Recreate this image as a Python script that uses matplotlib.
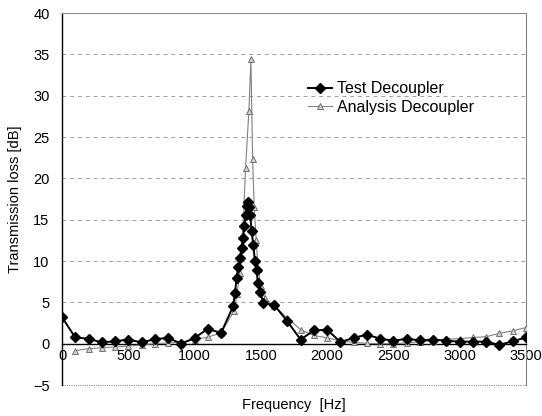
import matplotlib
matplotlib.use('Agg')
import matplotlib.pyplot as plt

# Test decoupler (measured)
test_freq = [0, 100, 200, 300, 400, 500, 600, 700, 800, 900, 1000, 1100, 1200,
             1290, 1305, 1317, 1330, 1342, 1355, 1365, 1375, 1385, 1395, 1405, 1412,
             1420, 1430, 1443, 1455, 1468, 1478, 1493, 1520, 1600, 1700, 1800,
             1900, 2000, 2100, 2200, 2300, 2400, 2500, 2600, 2700, 2800, 2900,
             3000, 3100, 3200, 3300, 3400, 3500]
test_tl = [3.2, 0.75, 0.6, 0.15, 0.3, 0.5, 0.15, 0.55, 0.7, 0.0, 0.7, 1.8, 1.3,
           4.5, 6.1, 8.0, 9.3, 10.4, 11.6, 12.8, 14.2, 15.6, 16.7, 17.2, 16.5,
           15.6, 13.6, 12.0, 10.0, 8.9, 7.3, 6.3, 4.9, 4.7, 2.7, 0.5,
           1.6, 1.7, 0.2, 0.7, 1.1, 0.6, 0.35, 0.6, 0.4, 0.5, 0.35,
           0.25, 0.25, 0.25, -0.15, 0.3, 0.75]

# Analysis decoupler (simulation)
ana_freq = [100, 200, 300, 400, 500, 600, 700, 800, 900, 1000, 1100, 1200,
            1300, 1320, 1340, 1360, 1385, 1410, 1425, 1438, 1450, 1465, 1480,
            1500, 1530, 1600, 1700, 1800, 1900, 2000, 2100, 2200, 2300, 2400,
            2500, 2600, 2700, 2800, 2900, 3000, 3100, 3200, 3300, 3400, 3500]
ana_tl = [-0.85, -0.6, -0.5, -0.4, -0.3, -0.15, 0.0, 0.1, 0.15, 0.5, 0.8, 1.3,
          4.0, 6.0, 8.5, 12.0, 21.3, 28.2, 34.4, 22.3, 16.5, 12.5, 9.0,
          7.0, 5.5, 4.6, 3.1, 1.7, 1.0, 0.7, 0.35, 0.15, 0.05, 0.0,
          0.0, 0.1, 0.25, 0.35, 0.55, 0.6, 0.75, 0.85, 1.25, 1.55, 1.95]

x_ticks = [0, 500, 1000, 1500, 2000, 2500, 3000, 3500]
y_ticks = [-5, 0, 5, 10, 15, 20, 25, 30, 35, 40]

plt.rcParams['font.family'] = ['Liberation Sans', 'DejaVu Sans']

fig = plt.figure(figsize=(5.42, 4.16), dpi=100)
ax = fig.add_axes([0.1144, 0.0745, 0.856, 0.894])

ax.plot(ana_freq, ana_tl, color='#808080', lw=0.8, marker='^', markersize=4,
        markerfacecolor='#d0d0d0', markeredgecolor='#606060', markeredgewidth=0.6,
        label='Analysis Decoupler', zorder=3)
ax.plot(test_freq, test_tl, color='black', lw=1.4, marker='D', markersize=5.5,
        label='Test Decoupler', zorder=4)

ax.set_xlim(0, 3500)
ax.set_ylim(-5, 40)
ax.set_xticks(x_ticks)
ax.set_yticks(y_ticks)
ax.tick_params(length=0, labelsize=10.5)
ax.tick_params(axis='x', pad=4)
ax.tick_params(axis='y', pad=9)

# grid lines at 5..35
for y in y_ticks[2:-1]:
    ax.axhline(y, color='#a0a0a0', lw=0.7, ls=(0, (4, 4)), zorder=1)

ax.spines['bottom'].set_position(('data', 0))
ax.spines['bottom'].set_color('black')
ax.spines['bottom'].set_linewidth(1.0)
ax.spines['left'].set_color('black')
ax.spines['left'].set_linewidth(1.0)
ax.spines['top'].set_color('#909090')
ax.spines['top'].set_linestyle((0, (1, 1)))
ax.spines['top'].set_linewidth(0.8)
ax.spines['right'].set_color('#808080')
ax.spines['right'].set_linewidth(0.8)
ax.axhline(-5, color='#909090', lw=0.8, ls=(0, (1, 1)), clip_on=False)

ax.set_ylabel('Transmission loss [dB]', fontsize=10.5, labelpad=8)
ax.set_xlabel('Frequency  [Hz]', fontsize=10.5)
ax.xaxis.set_label_coords(0.5, -0.035)

handles, labels = ax.get_legend_handles_labels()
ax.legend(handles[::-1], labels[::-1], loc='upper left', bbox_to_anchor=(0.5, 0.855),
          frameon=False, fontsize=11.5, handlelength=1.5, handletextpad=0.3,
          labelspacing=0.2)

fig.savefig('out.png', dpi=100)
